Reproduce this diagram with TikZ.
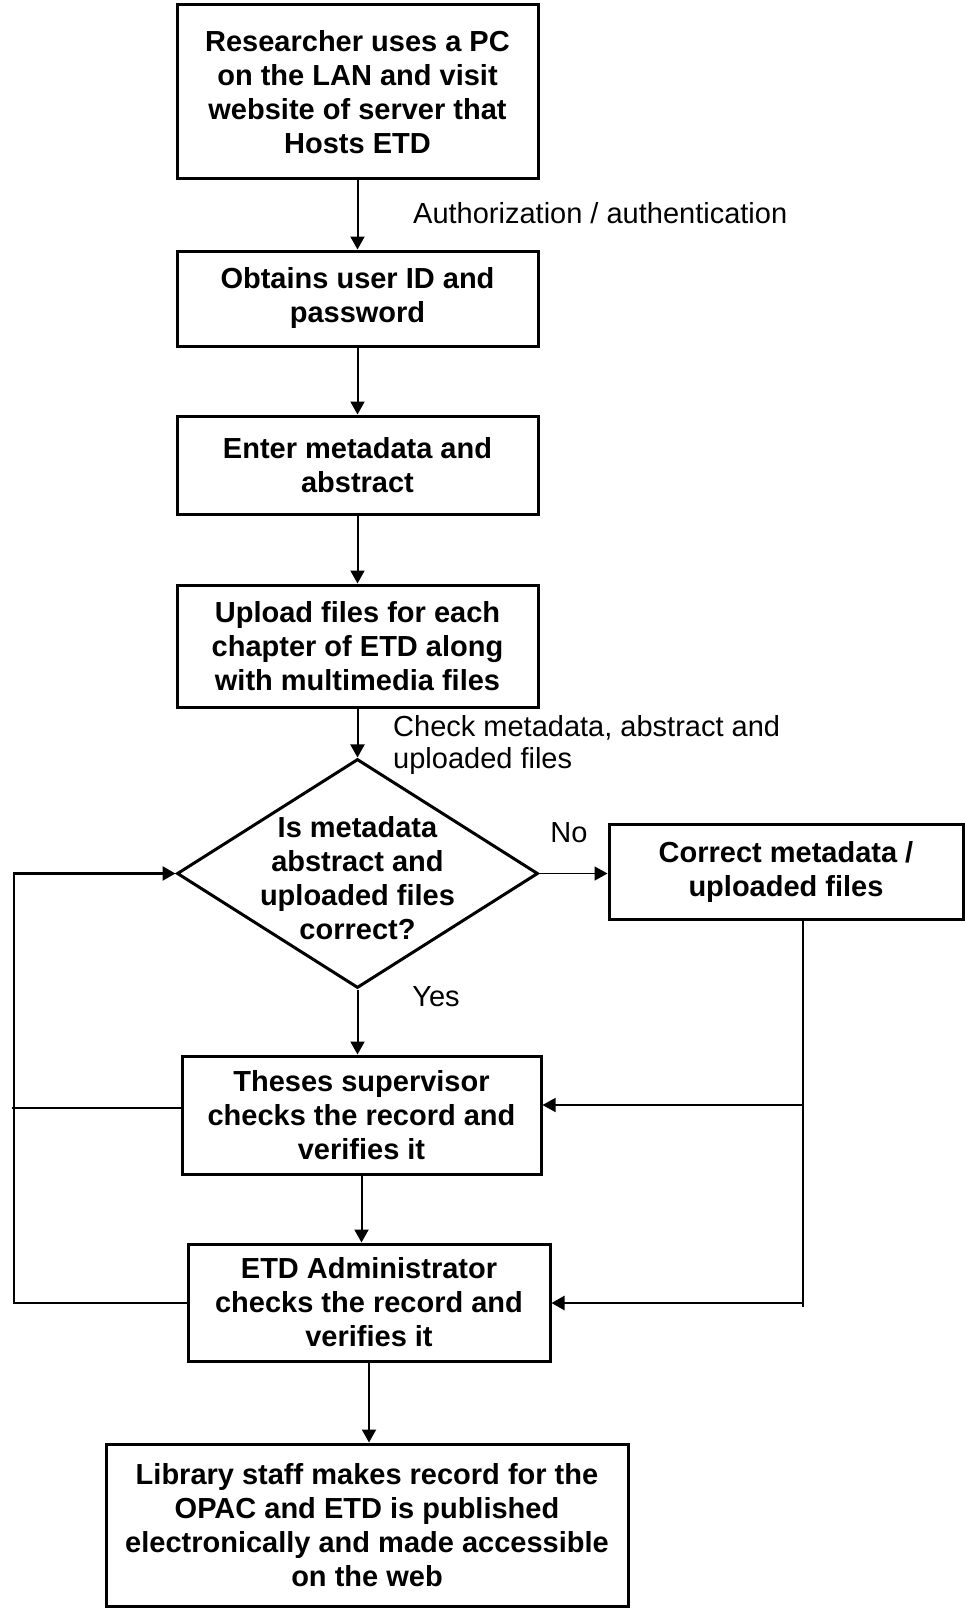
\documentclass[tikz,border=0pt]{standalone}
\usepackage{fontspec}
\setmainfont{Liberation Sans}
\usetikzlibrary{positioning, arrows.meta, shapes.geometric, calc}

\begin{document}
\begin{tikzpicture}[
  x=1pt, y=-1pt,
  font=\fontsize{29}{34}\selectfont,
  proc/.style={draw, line width=3pt, align=center, inner sep=0pt,
    minimum width=361pt, font=\fontsize{29}{34}\selectfont\bfseries},
  decision/.style={draw, diamond, line width=3pt, minimum width=361pt,
    minimum height=229pt, inner sep=0pt},
  btext/.style={align=center, inner sep=0pt,
    font=\fontsize{29}{34}\selectfont\bfseries},
  note/.style={align=left, inner sep=0pt, anchor=west},
  arrow/.style={-{Triangle[length=13pt,width=14pt]}, line width=2pt},
  thinarrow/.style={arrow, line width=1.5pt},
  loop/.style={line width=2.5pt},
]
  \useasboundingbox (0,0) rectangle (965,1608);

  % Main column
  \node[proc, minimum height=174pt] (visit) at (357.5, 92)
    {Researcher uses a PC\\on the LAN and visit\\website of server that\\Hosts ETD};
  \node[proc, minimum height=95pt] (login) at (357.5, 298.5)
    {Obtains user ID and\\password};
  \node[proc, minimum height=98pt] (meta) at (357.5, 465)
    {Enter metadata and\\abstract};
  \node[proc, minimum height=122pt] (upload) at (357.5, 646)
    {Upload files for each\\chapter of ETD along\\with multimedia files};
  \node[decision] (check) at (357.5, 873.5) {};
  \node[btext] (checktxt) at (357.5, 878)
    {Is metadata\\abstract and\\uploaded files\\correct?};
  \node[proc, minimum width=354pt, minimum height=95pt] (fix) at (786, 871.5)
    {Correct metadata /\\uploaded files};
  \node[proc, minimum width=359pt, minimum height=118pt] (superv) at (361.5, 1115)
    {Theses supervisor\\checks the record and\\verifies it};
  \node[proc, minimum width=362pt, minimum height=117pt] (admin) at (369, 1302.5)
    {ETD Administrator\\checks the record and\\verifies it};
  \node[proc, minimum width=522pt, minimum height=162pt] (publish) at (367, 1525)
    {Library staff makes record for the\\OPAC and ETD is published\\electronically and made accessible\\on the web};

  % Labels
  \node[note] (authlbl) at (413, 213) {Authorization / authentication};
  \node[note, font=\fontsize{29}{32}\selectfont] (checklbl) at (393, 745)
    {Check metadata, abstract and\\uploaded files};
  \node (nolbl) at (569, 833) {No};
  \node (yeslbl) at (436, 997) {Yes};

  % Arrows
  \draw[arrow] (visit) -- (login);
  \draw[arrow] (login) -- (meta);
  \draw[arrow] (meta) -- (upload);
  \draw[arrow] (upload) -- (check);
  \draw[thinarrow] (check.east) -- (check.east -| fix.west);
  \draw[arrow] (check.south) -- (check.south |- superv.north);
  \draw[arrow] (superv.south) -- (superv.south |- admin.north);
  \draw[arrow] (admin.south) -- (admin.south |- publish.north);

  % Loop back on the left
  \coordinate (lmid) at (12, 1108);
  \coordinate (lbot) at (14, 1303);
  \draw[loop] (lmid -| superv.west) -- (lmid);
  \draw[arrow, line width=2.5pt] (admin.west |- lbot) -- (lbot) -- (lbot |- check.west) -- (check.west);

  % Corrections on the right
  \coordinate (rmid) at (803, 1105);
  \coordinate (rbot) at (803, 1303);
  \draw[loop] (rbot |- fix.south) -- ($(rbot)+(0,4)$);
  \draw[thinarrow] (rmid) -- (rmid -| superv.east);
  \draw[arrow, line width=2.5pt] (rbot) -- (rbot -| admin.east);
\end{tikzpicture}
\end{document}
